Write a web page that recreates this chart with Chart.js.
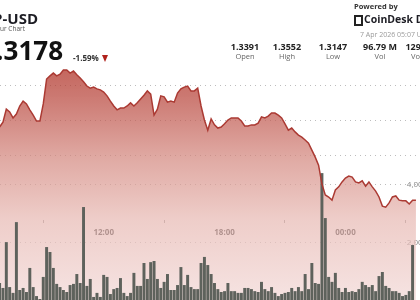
<!DOCTYPE html>
<html>
<head>
<meta charset="utf-8">
<script src="https://cdn.jsdelivr.net/npm/chart.js@4.4.1/dist/chart.umd.min.js"></script>
<style>
  body { margin: 0; background: #fff; font-family: 'Open Sans', sans-serif; }
  #wrap { position: relative; width: 420px; height: 300px; overflow: hidden; background: #fff; }
  #chartBox { position: absolute; left: 0; top: 0; width: 446px; height: 310px; }
  .t { position: absolute; white-space: nowrap; line-height: 1; }
  .stat { position: absolute; width: 60px; text-align: center; white-space: nowrap; line-height: 1; }
</style>
</head>
<body>
<div id="wrap">
  <div id="chartBox"><canvas id="price-chart"></canvas></div>

  <div class="t" style="right:382px; top:11px; font-size:15px; font-weight:700; color:#1d1d24;">XRP-USD</div>
  <div class="t" style="right:395px; top:26px; font-size:6.5px; color:#555;">24 Hour Chart</div>
  <div class="t" style="right:357px; top:37px; font-size:26px; font-weight:700; color:#111;">1.3178</div>
  <div class="t" style="left:73px; top:54px; font-size:8px; font-weight:700; color:#333;">-1.59%</div>
  <div class="t" style="left:102px; top:55px; width:0; height:0; border-left:3.5px solid transparent; border-right:3.5px solid transparent; border-top:7px solid #b0221c;"></div>

  <div class="t" style="left:354px; top:3px; font-size:7.5px; font-weight:700; color:#333;">Powered by</div>
  <div class="t" style="left:354px; top:15px; width:5px; height:7px; border:2px dashed #222;"></div>
  <div class="t" style="left:364px; top:14px; font-size:10.5px; font-weight:700; color:#1d1d24;">CoinDesk Data</div>
  <div class="t" style="left:360px; top:31px; font-size:7px; color:#9a9a9a;">7 Apr 2026 05:07 UTC</div>

  <div class="stat" style="left:215px; top:42px; font-size:9px; font-weight:700; color:#222;">1.3391</div>
  <div class="stat" style="left:215px; top:53px; font-size:7.5px; color:#666;">Open</div>
  <div class="stat" style="left:257px; top:42px; font-size:9px; font-weight:700; color:#222;">1.3552</div>
  <div class="stat" style="left:257px; top:53px; font-size:7.5px; color:#666;">High</div>
  <div class="stat" style="left:303px; top:42px; font-size:9px; font-weight:700; color:#222;">1.3147</div>
  <div class="stat" style="left:303px; top:53px; font-size:7.5px; color:#666;">Low</div>
  <div class="stat" style="left:350px; top:42px; font-size:9px; font-weight:700; color:#222;">96.79 M</div>
  <div class="stat" style="left:350px; top:53px; font-size:7.5px; color:#666;">Vol</div>
  <div class="stat" style="left:395px; top:42px; font-size:9px; font-weight:700; color:#222;">129.45 M</div>
  <div class="stat" style="left:395px; top:53px; font-size:7.5px; color:#666;">Vol USD</div>
</div>

<script>
// 10 minute slots, first visible one is 06:50
const startHour = 6 + 50 / 60;

const prices = [
  1.3380, 1.3394, 1.3431, 1.3423, 1.3406, 1.3417, 1.3440, 1.3454, 1.3446, 1.3429,
  1.3414, 1.3397, 1.3397, 1.3446, 1.3517, 1.3526, 1.3534, 1.3526, 1.3531, 1.3543,
  1.3543, 1.3534, 1.3540, 1.3529, 1.3520, 1.3509, 1.3497, 1.3491, 1.3494, 1.3489,
  1.3486, 1.3480, 1.3469, 1.3454, 1.3440, 1.3429, 1.3434, 1.3434, 1.3440, 1.3449,
  1.3440, 1.3449, 1.3460, 1.3471, 1.3483, 1.3474, 1.3414, 1.3431, 1.3469, 1.3466,
  1.3451, 1.3454, 1.3451, 1.3477, 1.3489, 1.3494, 1.3497, 1.3483, 1.3483, 1.3491,
  1.3440, 1.3400, 1.3371, 1.3403, 1.3386, 1.3377, 1.3380, 1.3389, 1.3400, 1.3406,
  1.3406, 1.3406, 1.3397, 1.3383, 1.3383, 1.3386, 1.3386, 1.3391, 1.3409, 1.3406,
  1.3411, 1.3420, 1.3420, 1.3414, 1.3406, 1.3389, 1.3371, 1.3377, 1.3366, 1.3357,
  1.3351, 1.3343, 1.3334, 1.3314, 1.3294, 1.3271, 1.3217, 1.3186, 1.3180, 1.3171,
  1.3200, 1.3209, 1.3223, 1.3234, 1.3240, 1.3237, 1.3223, 1.3220, 1.3226, 1.3211,
  1.3223, 1.3209, 1.3197, 1.3180, 1.3154, 1.3151, 1.3163, 1.3180, 1.3183, 1.3171,
  1.3169, 1.3169, 1.3160, 1.3171, 1.3171
];

// volume per slot, millions
const volumes = [
  0.62, 0.45, 2.03, 0.48, 0.28, 2.72, 0.38, 0.45, 0.31, 1.14,
  0.48, 0.17, 0.07, 0.83, 1.86, 1.69, 1.14, 0.59, 0.48, 0.38,
  0.31, 0.55, 0.59, 0.93, 0.62, 3.24, 0.52, 0.76, 0.14, 0.28,
  0.14, 0.90, 0.83, 0.24, 0.41, 0.45, 0.79, 0.28, 0.17, 0.28,
  0.97, 0.52, 0.52, 1.31, 0.76, 1.34, 1.38, 0.76, 0.45, 0.66,
  0.93, 0.38, 0.38, 0.55, 1.17, 0.55, 0.90, 0.48, 0.41, 0.41,
  1.31, 1.52, 1.24, 0.93, 0.62, 0.41, 0.31, 0.34, 0.62, 0.34,
  0.34, 0.28, 0.28, 0.45, 0.45, 0.41, 0.34, 0.31, 0.66, 0.41,
  0.34, 0.48, 0.28, 0.17, 0.24, 0.28, 0.31, 0.45, 0.34, 0.48,
  0.34, 0.93, 0.41, 1.31, 0.62, 0.59, 4.41, 2.86, 0.83, 0.66,
  0.97, 0.45, 0.31, 0.45, 0.31, 0.34, 0.31, 0.41, 0.66, 0.55,
  0.48, 0.55, 0.34, 0.86, 1.00, 0.52, 0.45, 0.34, 0.34, 0.28,
  0.17, 0.21, 0.34, 1.93
];

const timeTicks = [12, 18, 24];
const priceTicks = [1.33, 1.34, 1.35];
const volumeTicks = [2, 4];

const times = prices.map((p, i) => startHour + i / 6);

// axis ranges (px per hour = 20.42, canvas 446 wide)
const xMin = 6.853;
const xMax = xMin + 446 / 20.42;
const pMin = 1.288286;
const pMax = 1.357143;
const vMax = 8.31;

function fillGradient(context) {
  const chart = context.chart;
  const area = chart.chartArea;
  if (!area) return null;
  const g = chart.ctx.createLinearGradient(0, area.top, 0, area.bottom);
  g.addColorStop(0, 'rgba(169,34,22,0.72)');
  g.addColorStop(0.17, 'rgba(184,69,59,0.7)');
  g.addColorStop(0.41, 'rgba(211,134,125,0.7)');
  g.addColorStop(0.66, 'rgba(231,184,178,0.7)');
  g.addColorStop(1, 'rgba(242,216,214,0.7)');
  return g;
}

data = {
  datasets: [
    {
      type: 'line',
      label: 'Price',
      data: prices.map((p, i) => ({ x: times[i], y: p })),
      yAxisID: 'yp',
      borderColor: '#ab3a33',
      borderWidth: 1.5,
      pointRadius: 0,
      tension: 0,
      fill: 'start',
      backgroundColor: fillGradient
    },
    {
      type: 'bar',
      label: 'Volume',
      data: volumes.map((v, i) => ({ x: times[i], y: v })),
      yAxisID: 'yv',
      backgroundColor: '#5e625c',
      barPercentage: 0.88,
      categoryPercentage: 1
    }
  ]
};

config = {
  type: 'line',
  data: data,
  options: {
    responsive: true,
    maintainAspectRatio: false,
    animation: false,
    devicePixelRatio: 1,
    layout: { padding: { top: 60, bottom: 9, left: 0, right: 0 } },
    plugins: {
      legend: { display: false },
      tooltip: { enabled: false },
      filler: { drawTime: 'beforeDatasetsDraw' }
    },
    scales: {
      x: {
        type: 'linear',
        min: xMin,
        max: xMax,
        offset: false,
        position: { yv: 81 / 29 },
        afterBuildTicks: function(scale) { scale.ticks = timeTicks.map(v => ({ value: v })); },
        ticks: {
          autoSkip: false,
          maxRotation: 0,
          padding: 5,
          color: '#2a2a2a',
          font: { family: 'Open Sans', size: 8, weight: 'bold' },
          callback: v => String(v % 24).padStart(2, '0') + ':00'
        },
        grid: { drawOnChartArea: false, drawTicks: true, tickLength: 3, tickColor: '#9a9a9a' },
        border: { display: false }
      },
      yp: {
        type: 'linear',
        position: 'right',
        min: pMin,
        max: pMax,
        afterBuildTicks: function(scale) { scale.ticks = priceTicks.map(v => ({ value: v })); },
        ticks: { display: false },
        grid: { color: '#bdbdbd', drawTicks: false },
        border: { display: false, dash: [1, 4] }
      },
      yv: {
        type: 'linear',
        position: 'right',
        min: 0,
        max: vMax,
        afterBuildTicks: function(scale) { scale.ticks = volumeTicks.map(v => ({ value: v })); },
        ticks: {
          mirror: true,
          padding: 3,
          color: '#8a8a8a',
          font: { family: 'Open Sans', size: 8 },
          callback: v => (v * 1e6).toLocaleString('en-US')
        },
        grid: { color: '#bdbdbd', drawTicks: false },
        border: { display: false, dash: [1, 4] }
      }
    }
  }
};

priceChart = new Chart(document.getElementById('price-chart'), config);
</script>
</body>
</html>
